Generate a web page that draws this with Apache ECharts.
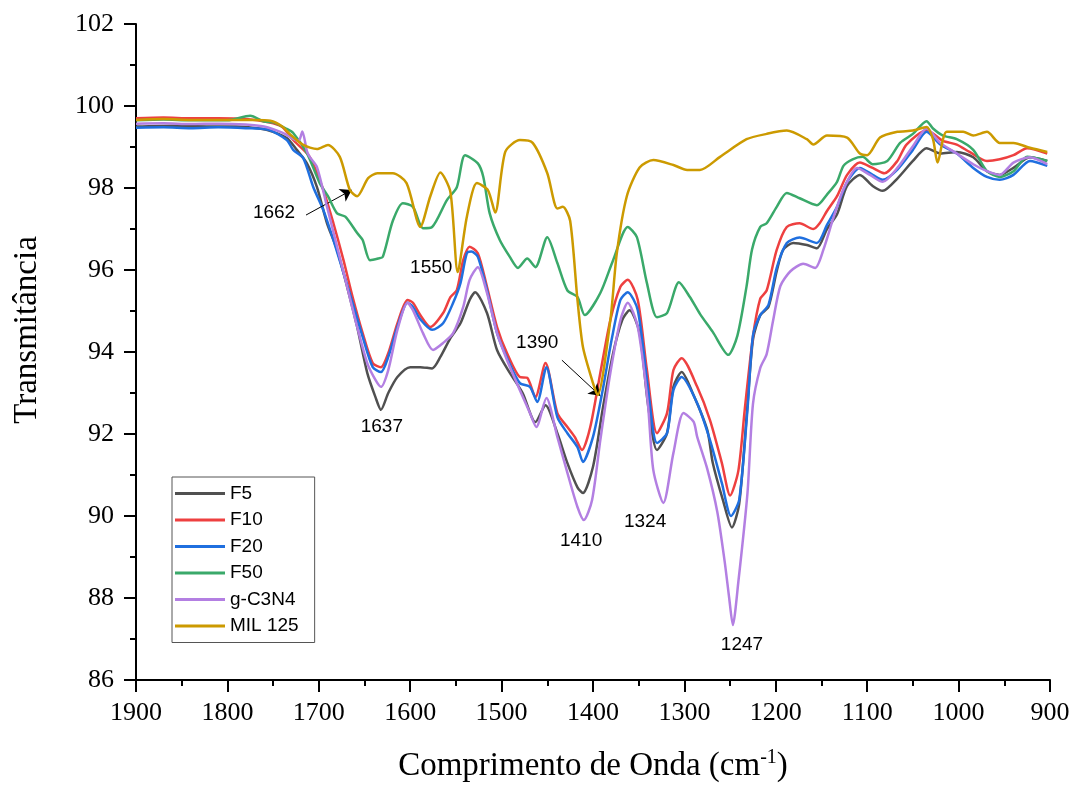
<!DOCTYPE html>
<html>
<head>
<meta charset="utf-8">
<script src="https://cdn.jsdelivr.net/npm/echarts@6/dist/echarts.min.js"></script>
<style>
  html, body { margin: 0; padding: 0; background: #fff; }
  #chart { width: 1070px; height: 787px; }
</style>
</head>
<body>
<div id="chart"></div>
<script>
// FTIR spectra, wavenumber (cm-1) -> transmittance (%)
const f5Wave = [1900,1860,1820,1790,1765,1750,1735,1724,1713,1702,1691,1680,1669,1658,1647,1638,1632,1624,1614,1600,1589,1576,1567,1556,1545,1535,1529,1516,1505,1491,1477,1463,1452,1439,1428,1417,1411,1400,1389,1378,1368,1360,1349,1340,1330,1319,1312,1303,1291,1275,1269,1258,1248,1240,1231,1225,1217,1208,1199,1192,1181,1166,1155,1144,1133,1122,1108,1094,1083,1067,1050,1035,1020,1002,984,969,955,940,922,903];
const f5T = [99.5,99.52,99.5,99.5,99.45,99.37,99.22,98.93,98.6,98.02,97.14,96.49,95.59,94.61,93.49,92.9,92.59,93.0,93.39,93.63,93.63,93.6,93.88,94.34,94.7,95.27,95.46,94.95,94.05,93.49,93.0,92.29,92.7,92.02,91.29,90.7,90.56,91.2,92.66,93.97,94.78,95.02,94.46,92.75,91.61,92.02,93.15,93.51,93.0,92.1,91.3,90.4,89.72,90.3,92.7,94.3,94.9,95.1,95.97,96.49,96.66,96.61,96.53,97.0,97.36,98.05,98.32,98.05,97.93,98.23,98.66,98.97,98.84,98.88,98.75,98.41,98.32,98.49,98.75,98.66];

const f10Wave = [1900,1870,1840,1810,1780,1755,1740,1728,1710,1695,1684,1673,1663,1652,1641,1632,1624,1614,1603,1597,1589,1578,1564,1556,1549,1542,1535,1526,1516,1505,1494,1480,1472,1463,1452,1439,1428,1420,1412,1403,1392,1381,1370,1362,1351,1341,1330,1319,1312,1303,1286,1272,1259,1250,1241,1234,1225,1217,1210,1199,1188,1174,1159,1152,1144,1133,1122,1108,1094,1081,1067,1057,1035,1017,1002,988,969,955,940,925,903];
const f10T = [99.7,99.72,99.7,99.7,99.68,99.6,99.49,99.17,98.76,97.95,97.14,96.24,95.34,94.46,93.73,93.63,93.97,94.7,95.27,95.2,94.9,94.61,94.95,95.34,95.51,96.24,96.57,96.41,95.59,94.61,93.97,93.39,93.37,92.9,93.73,92.51,92.17,91.93,91.61,92.17,93.49,94.78,95.59,95.76,95.27,93.56,92.02,92.51,93.56,93.85,93.15,92.34,91.29,90.5,91.1,92.59,94.37,95.3,95.5,96.49,97.05,97.14,97.0,97.14,97.44,97.8,98.32,98.62,98.49,98.36,98.66,99.06,99.41,99.15,99.06,98.88,98.66,98.7,98.8,98.97,98.84];

const f20Wave = [1900,1870,1840,1810,1780,1755,1735,1728,1717,1706,1695,1684,1673,1663,1652,1641,1632,1624,1614,1603,1597,1589,1576,1564,1553,1545,1538,1533,1526,1516,1505,1493,1480,1469,1461,1451,1439,1428,1417,1411,1400,1390,1379,1370,1362,1351,1340,1330,1319,1312,1303,1286,1272,1259,1249,1240,1231,1225,1217,1208,1199,1188,1174,1155,1144,1133,1122,1108,1094,1083,1067,1050,1035,1020,1002,984,969,955,940,922,903];
const f20T = [99.47,99.48,99.46,99.48,99.46,99.42,99.17,98.93,98.73,98.02,97.46,96.73,95.93,95.2,94.37,93.63,93.51,93.88,94.61,95.2,95.1,94.8,94.54,94.7,95.2,95.68,96.41,96.45,96.32,95.51,94.46,93.8,93.24,93.15,92.78,93.63,92.41,92.02,91.68,91.32,91.93,93.0,94.37,95.27,95.46,95.02,93.15,91.78,92.02,93.07,93.39,92.75,91.85,90.8,90.0,90.4,92.6,94.4,94.9,95.15,96.05,96.66,96.79,96.66,97.1,97.54,98.15,98.49,98.32,98.2,98.45,98.93,99.37,99.06,98.84,98.49,98.27,98.2,98.32,98.66,98.54];

const f50Wave = [1900,1870,1840,1800,1775,1760,1750,1735,1728,1713,1699,1690,1680,1671,1658,1652,1644,1635,1630,1619,1608,1597,1586,1576,1560,1549,1540,1526,1520,1513,1502,1491,1482,1472,1463,1450,1439,1428,1417,1409,1392,1378,1362,1352,1341,1330,1319,1306,1294,1283,1269,1252,1242,1232,1226,1217,1210,1199,1188,1174,1155,1144,1133,1126,1116,1105,1094,1078,1064,1050,1035,1028,1017,1002,984,969,955,940,925,903];
const f50T = [99.65,99.67,99.65,99.65,99.76,99.62,99.6,99.44,99.34,98.85,98.12,97.8,97.38,97.3,96.9,96.73,96.24,96.28,96.32,97.2,97.63,97.54,97.02,97.05,97.7,98.02,98.8,98.6,98.27,97.38,96.73,96.32,96.05,96.28,96.07,96.8,96.17,95.5,95.34,94.9,95.44,96.24,97.05,96.8,95.68,94.85,94.95,95.7,95.34,94.93,94.49,93.93,94.4,95.6,96.5,97.05,97.14,97.54,97.88,97.75,97.58,97.84,98.15,98.54,98.7,98.76,98.58,98.66,99.1,99.32,99.63,99.45,99.28,99.19,98.93,98.41,98.27,98.41,98.76,98.66];

const gcnWave = [1900,1870,1840,1810,1780,1760,1740,1728,1722,1718,1713,1710,1702,1691,1680,1669,1658,1647,1638,1632,1624,1614,1603,1597,1586,1575,1564,1553,1542,1535,1526,1516,1505,1494,1480,1469,1462,1451,1439,1428,1417,1410,1401,1392,1381,1370,1362,1351,1340,1334,1323,1312,1301,1290,1286,1275,1264,1256,1251,1247,1241,1231,1225,1217,1210,1203,1195,1184,1170,1157,1148,1137,1126,1111,1097,1083,1067,1050,1035,1020,1002,984,969,955,940,922,903];
const gcnT = [99.57,99.58,99.56,99.57,99.55,99.5,99.35,99.2,99.15,99.38,98.9,98.76,98.51,97.54,96.57,95.59,94.61,93.73,93.32,93.15,93.56,94.54,95.2,95.02,94.46,94.05,94.22,94.46,95.1,95.76,96.07,95.44,94.46,93.8,93.07,92.51,92.17,92.88,91.93,91.05,90.22,89.9,90.39,91.85,93.49,94.78,95.2,94.61,92.75,91.12,90.32,91.54,92.51,92.3,91.93,91.15,90.1,88.9,88.0,87.34,88.39,90.56,92.73,93.61,93.95,94.76,95.61,95.97,96.15,96.05,96.49,97.27,97.97,98.49,98.32,98.15,98.49,99.02,99.45,99.1,98.84,98.58,98.41,98.32,98.62,98.75,98.58];

const milWave = [1900,1870,1840,1800,1770,1753,1740,1731,1717,1702,1690,1677,1666,1658,1646,1636,1619,1604,1589,1578,1567,1556,1548,1538,1527,1515,1507,1496,1480,1466,1450,1439,1433,1425,1417,1411,1400,1395,1381,1374,1363,1349,1334,1312,1297,1283,1261,1232,1210,1188,1166,1159,1144,1122,1108,1100,1086,1067,1050,1035,1028,1023,1013,995,984,969,955,940,922,903];
const milT = [99.66,99.68,99.66,99.66,99.66,99.64,99.5,99.3,99.05,98.95,99.05,98.76,97.95,97.8,98.24,98.36,98.36,98.12,97.05,97.8,98.38,97.9,95.95,97.3,98.12,97.95,97.4,98.88,99.17,99.1,98.36,97.5,97.54,97.2,95.27,94.12,93.24,92.95,94.78,96.4,97.8,98.5,98.68,98.56,98.44,98.44,98.76,99.19,99.32,99.4,99.19,99.06,99.28,99.23,98.84,98.8,99.23,99.37,99.4,99.49,99.19,98.62,99.37,99.37,99.28,99.37,99.1,99.1,98.98,98.88];

const seriesNames = ['F5', 'F10', 'F20', 'F50', 'g-C3N4', 'MIL 125'];
const seriesColors = ['#505050', '#ee4040', '#1f6fdf', '#3aa96a', '#b37fe2', '#cc9a00'];

// peak annotations: text, wavenumber, transmittance where the text sits
const annoText = ['1662', '1550', '1637', '1390', '1410', '1324', '1247'];
const annoWave = [1749, 1577, 1631, 1461, 1413, 1343, 1237];
const annoT = [97.39, 96.05, 92.17, 94.22, 89.39, 89.85, 86.85];

// arrows: [from wave, from T, to wave, to T]
const arrows = [
  [1714, 97.34, 1664, 97.95],
  [1434, 93.8, 1392, 92.93]
];

function zip(xs, ys) {
  return xs.map((x, i) => [x, ys[i]]);
}

const chart = echarts.init(document.getElementById('chart'));
const waves = [f5Wave, f10Wave, f20Wave, f50Wave, gcnWave, milWave];
const vals = [f5T, f10T, f20T, f50T, gcnT, milT];

const lineSeries = seriesNames.map((name, i) => ({
  name: name,
  type: 'line',
  data: zip(waves[i], vals[i]),
  showSymbol: false,
  smooth: 0.25,
  lineStyle: { width: 2.5, color: seriesColors[i] },
  itemStyle: { color: seriesColors[i] },
  z: 2 + i
}));

const serif = '"Liberation Serif", "Times New Roman", serif';
const sans = '"Liberation Sans", Arial, sans-serif';

const option = {
  animation: false,
  backgroundColor: '#fff',
  grid: { left: 136, right: 20, top: 24, bottom: 107, outerBoundsMode: 'none' },
  legend: {
    data: seriesNames,
    orient: 'vertical',
    left: 172,
    top: 477,
    icon: 'rect',
    itemWidth: 50,
    itemHeight: 3,
    itemGap: 7.5,
    padding: [7, 16, 7, 3],
    borderColor: '#555',
    borderWidth: 1,
    textStyle: { fontFamily: sans, fontSize: 19, color: '#000' }
  },
  xAxis: {
    type: 'value',
    inverse: true,
    min: 900,
    max: 1900,
    interval: 100,
    name: 'Comprimento de Onda (cm{sup|-1})',
    nameLocation: 'middle',
    nameGap: 68,
    nameTextStyle: {
      fontFamily: serif, fontSize: 33, color: '#000',
      rich: { sup: { fontFamily: serif, fontSize: 20, verticalAlign: 'top', padding: [0, 0, 16, 0], color: '#000' } }
    },
    axisLine: { show: true, onZero: false, lineStyle: { color: '#000', width: 2 } },
    axisTick: { show: true, inside: false, length: 12, lineStyle: { color: '#000', width: 2 } },
    minorTick: { show: true, splitNumber: 2, length: 6, lineStyle: { color: '#000', width: 2 } },
    axisLabel: { fontFamily: serif, fontSize: 26, color: '#000', margin: 20, formatter: v => String(v) },
    splitLine: { show: false }
  },
  yAxis: {
    type: 'value',
    min: 86,
    max: 102,
    interval: 2,
    name: 'Transmitância',
    nameLocation: 'middle',
    nameGap: 92,
    nameTextStyle: { fontFamily: serif, fontSize: 33, color: '#000', padding: [0, 0, 0, 44] },
    axisLine: { show: true, onZero: false, lineStyle: { color: '#000', width: 2 } },
    axisTick: { show: true, inside: false, length: 12, lineStyle: { color: '#000', width: 2 } },
    minorTick: { show: true, splitNumber: 2, length: 6, lineStyle: { color: '#000', width: 2 } },
    axisLabel: { fontFamily: serif, fontSize: 26, color: '#000', margin: 22 },
    splitLine: { show: false }
  },
  series: lineSeries.concat([{
    name: 'anotacoes',
    type: 'scatter',
    symbolSize: 0,
    z: 20,
    silent: true,
    itemStyle: { opacity: 1 },
    data: annoText.map((t, i) => ({ value: [annoWave[i], annoT[i]], label: { formatter: t } })),
    label: {
      show: true,
      position: 'inside',
      fontFamily: sans,
      fontSize: 19,
      color: '#000',
      textBorderWidth: 0
    },
    markLine: {
      silent: true,
      symbol: ['none', 'arrow'],
      symbolSize: 11,
      label: { show: false },
      lineStyle: { color: '#000', width: 1, type: 'solid', opacity: 1 },
      data: arrows.map(a => [{ coord: [a[0], a[1]] }, { coord: [a[2], a[3]] }])
    }
  }])
};

chart.setOption(option);
</script>
</body>
</html>
